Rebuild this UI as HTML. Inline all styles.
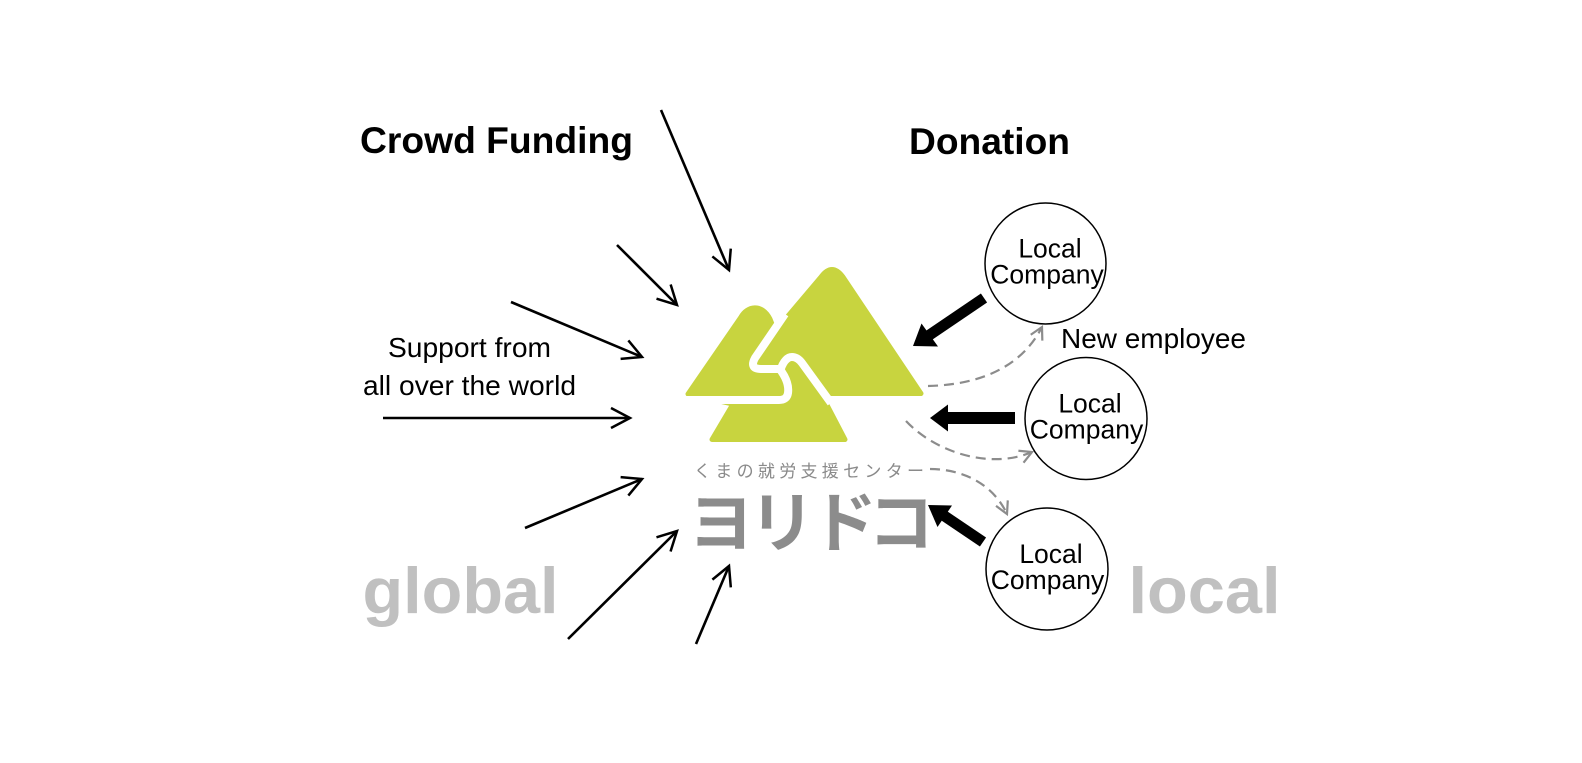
<!DOCTYPE html>
<html>
<head>
<meta charset="utf-8">
<style>
  html, body { margin: 0; padding: 0; background: #ffffff; }
  body { width: 1582px; height: 763px; overflow: hidden; }
  svg { display: block; }
  .lat { font-family: "Liberation Sans", Arial, sans-serif; }
  .jp { font-family: "Noto Sans CJK JP", "Noto Sans CJK SC", sans-serif; }
</style>
</head>
<body>
<svg width="1582" height="763" viewBox="0 0 1582 763" xmlns="http://www.w3.org/2000/svg">
  <defs>
    <marker id="ah" markerUnits="userSpaceOnUse" markerWidth="30" markerHeight="30" viewBox="-25 -15 30 30" refX="0" refY="0" orient="auto" overflow="visible">
      <path d="M-19,-10 L0,0 L-19,10" fill="none" stroke="#000" stroke-width="2.5" stroke-linejoin="miter" stroke-linecap="butt"/>
    </marker>
    <marker id="dh" markerUnits="userSpaceOnUse" markerWidth="20" markerHeight="20" viewBox="-15 -10 20 20" refX="0" refY="0" orient="auto" overflow="visible">
      <path d="M-12,-6.5 L0,0 L-12,6.5" fill="none" stroke="#8c8c8c" stroke-width="2.2" stroke-linecap="butt"/>
    </marker>
  </defs>

  <!-- Titles -->
  <text class="lat" x="360" y="153" font-size="37" font-weight="700" fill="#000" textLength="273" lengthAdjust="spacingAndGlyphs">Crowd Funding</text>
  <text class="lat" x="909" y="154" font-size="37" font-weight="700" fill="#000" textLength="161" lengthAdjust="spacingAndGlyphs">Donation</text>

  <!-- Support text -->
  <text class="lat" x="388" y="357" font-size="28" fill="#000" textLength="163" lengthAdjust="spacingAndGlyphs">Support from</text>
  <text class="lat" x="363" y="395" font-size="28" fill="#000" textLength="213" lengthAdjust="spacingAndGlyphs">all over the world</text>

  <!-- global / local -->
  <text class="lat" x="362.5" y="613" font-size="65" font-weight="700" fill="#c0c0c0" textLength="196" lengthAdjust="spacingAndGlyphs">global</text>
  <text class="lat" x="1128.5" y="613" font-size="65" font-weight="700" fill="#c0c0c0" textLength="152" lengthAdjust="spacingAndGlyphs">local</text>

  <!-- Thin arrows (global support) -->
  <g stroke="#000" stroke-width="2.6" fill="none" marker-end="url(#ah)">
    <line x1="661" y1="110" x2="729" y2="270"/>
    <line x1="617" y1="245" x2="677" y2="305"/>
    <line x1="511" y1="302" x2="642" y2="357"/>
    <line x1="383" y1="418" x2="630" y2="418"/>
    <line x1="525" y1="528" x2="642" y2="479"/>
    <line x1="568" y1="639" x2="677" y2="531"/>
    <line x1="696" y1="644" x2="729" y2="566"/>
  </g>

  <!-- Logo (green mountains) -->
  <path d="M 688,394 L 741,317 C 747,306 762,303 770,319 L 772,324 L 777,329 L 821,277 Q 832,262 843,277 L 921,393.5 L 821,393.5 L 845,439.5 L 712,439.5 L 733,404 Z"
        fill="#c8d43f" stroke="#c8d43f" stroke-width="5" stroke-linejoin="round"/>
  <g fill="none" stroke="#ffffff" stroke-width="8" stroke-linecap="butt" stroke-linejoin="round">
    <path d="M 785,314 L 755,358 Q 749,369 761,369 L 782,369"/>
    <path d="M 780,371 C 783,362 787,357 792,357 C 796,357 799,359 802,363 L 831,403"/>
    <path d="M 779,368 C 786,377 789,386 788,393 Q 787,400 779,400 L 676,400"/>
  </g>

  <!-- Japanese logotype -->
  <text class="jp" x="694" y="477" font-size="17" fill="#8a8a8a" textLength="230" lengthAdjust="spacing">くまの就労支援センター</text>
  <g class="jp" font-size="66" font-weight="700" fill="#8c8c8c" text-anchor="middle">
    <text x="721" y="546">ヨ</text>
    <text x="782" y="546">リ</text>
    <text x="844" y="546">ド</text>
    <text x="901" y="546">コ</text>
  </g>

  <!-- Dashed gray arrows (new employee) -->
  <g fill="none" stroke="#8c8c8c" stroke-width="2.2" stroke-dasharray="10 6" marker-end="url(#dh)">
    <path d="M 928,386 C 975,385 1020,370 1042,327"/>
    <path d="M 906,421 C 935,452 990,470 1032,452"/>
    <path d="M 930,469 C 960,469 992,482 1007,514"/>
  </g>

  <!-- Thick black arrows (donation) -->
  <g fill="#000">
    <line x1="984" y1="298" x2="928" y2="336" stroke="#000" stroke-width="11"/>
    <polygon points="913,346 921.5,323.5 938,346.5"/>
    <line x1="1015" y1="418" x2="946" y2="418" stroke="#000" stroke-width="12"/>
    <polygon points="930,418 948,404.5 948,431.5"/>
    <line x1="983" y1="542" x2="943" y2="515" stroke="#000" stroke-width="11"/>
    <polygon points="928,505 952,505.5 937.5,527"/>
  </g>

  <!-- Local Company circles -->
  <g fill="#ffffff" stroke="#000" stroke-width="1.5">
    <circle cx="1045.5" cy="263.5" r="60.5"/>
    <circle cx="1086" cy="418.5" r="61"/>
    <circle cx="1047" cy="569" r="61"/>
  </g>
  <g class="lat" font-size="26.5" fill="#000" text-anchor="middle">
    <text x="1050" y="257.5">Local</text>
    <text x="1047" y="283.5">Company</text>
    <text x="1090" y="412.5">Local</text>
    <text x="1086.5" y="438.5">Company</text>
    <text x="1051" y="563">Local</text>
    <text x="1047.5" y="589">Company</text>
  </g>

  <!-- New employee label -->
  <text class="lat" x="1061" y="348" font-size="27.5" fill="#000" textLength="185" lengthAdjust="spacingAndGlyphs">New employee</text>
</svg>
</body>
</html>
